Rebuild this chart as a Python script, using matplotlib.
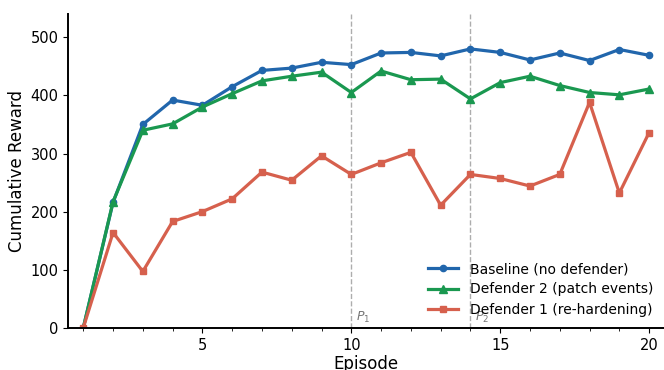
import numpy as np
import matplotlib.pyplot as plt

# ------------------------- Data -------------------------
episodes = np.arange(1, 21)
baseline = [0, 216, 350, 392, 383, 415, 443, 447, 457, 453,
            473, 474, 468, 480, 474, 461, 473, 460, 479, 469]
defender2 = [0, 217, 340, 351, 380, 403, 425, 433, 440, 405,
             442, 427, 428, 394, 422, 433, 417, 405, 401, 411]
defender1 = [0, 164, 97, 183, 200, 222, 268, 254, 296, 264,
             284, 302, 211, 264, 257, 244, 264, 388, 232, 336]
phase_marks = [10, 14]
phase_labels = ["$P_1$", "$P_2$"]

# ------------------------- Plot -------------------------
fig, ax = plt.subplots(figsize=(6.64, 3.7), dpi=100)

ax.plot(episodes, baseline, color="#2166ac", marker="o", lw=2.3, ms=4.5,
        label="Baseline (no defender)")
ax.plot(episodes, defender2, color="#1a9850", marker="^", lw=2.3, ms=5.5,
        label="Defender 2 (patch events)")
ax.plot(episodes, defender1, color="#d6604d", marker="s", lw=2.3, ms=4.5,
        label="Defender 1 (re-hardening)")

for x, lab in zip(phase_marks, phase_labels):
    ax.axvline(x, color="#999999", ls="--", lw=1.0, alpha=0.8, zorder=0)
    ax.text(x + 0.15, 12, lab, color="#777777", fontsize=9, style="italic")

ax.set_xlim(0.5, 20.5)
ax.set_ylim(0, 540)
ax.set_xticks([5, 10, 15, 20])
ax.set_xticks(episodes, minor=True)
ax.set_yticks([0, 100, 200, 300, 400, 500])
ax.tick_params(labelsize=10.5)
ax.set_xlabel("Episode", fontsize=12, labelpad=2)
ax.set_ylabel("Cumulative Reward", fontsize=12, labelpad=3)

for s in ["top", "right"]:
    ax.spines[s].set_visible(False)
for s in ["left", "bottom"]:
    ax.spines[s].set_linewidth(1.4)

ax.legend(loc="lower right", frameon=False, fontsize=10,
          handlelength=2.2, borderaxespad=0.4, labelspacing=0.45)

fig.subplots_adjust(left=0.103, right=1.0, top=0.962, bottom=0.114)
fig.savefig("out.png", dpi=100)
